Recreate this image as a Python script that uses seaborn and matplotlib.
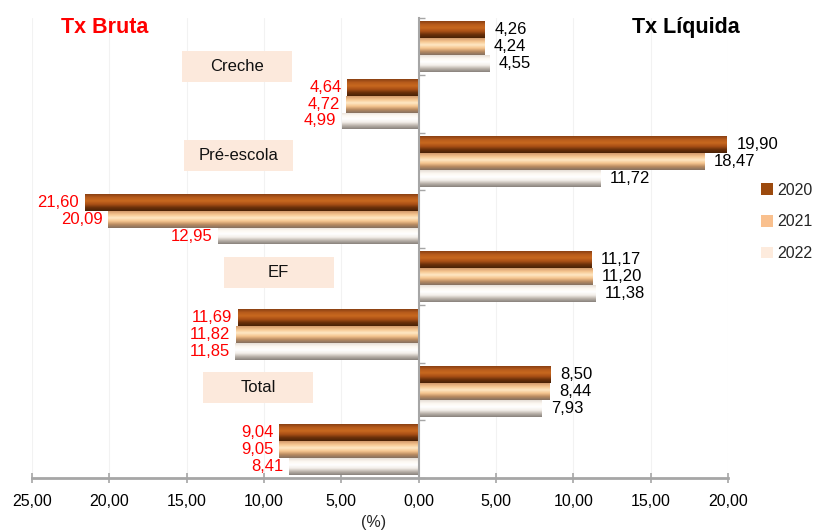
import numpy as np
import pandas as pd
import seaborn as sns
import matplotlib.pyplot as plt
from matplotlib.colors import LinearSegmentedColormap
from matplotlib.patches import Rectangle
from matplotlib.ticker import FuncFormatter, MultipleLocator

# dados (em %)
categorias = ["Creche", "Pré-escola", "EF", "Total"]
anos = ["2020", "2021", "2022"]
tx_liquida = {
    "2020": [4.26, 19.90, 11.17, 8.50],
    "2021": [4.24, 18.47, 11.20, 8.44],
    "2022": [4.55, 11.72, 11.38, 7.93],
}
tx_bruta = {
    "2020": [4.64, 21.60, 11.69, 9.04],
    "2021": [4.72, 20.09, 11.82, 9.05],
    "2022": [4.99, 12.95, 11.85, 8.41],
}

# monta tabela longa: cada categoria tem uma linha Liquida (positiva) e uma Bruta (negativa)
linhas = []
for i, cat in enumerate(categorias):
    for ano in anos:
        linhas.append({"linha": f"{cat} L", "ano": ano, "valor": tx_liquida[ano][i]})
    for ano in anos:
        linhas.append({"linha": f"{cat} B", "ano": ano, "valor": -tx_bruta[ano][i]})
df = pd.DataFrame(linhas)
ordem = [f"{c} {t}" for c in categorias for t in ("L", "B")]

sns.set_style("white")
plt.rcParams["font.family"] = ["Liberation Sans", "DejaVu Sans"]

cores = {"2020": "#9C4A0E", "2021": "#F9C08E", "2022": "#FDEBDD"}
gradientes = {
    "2020": ["#8A4012", "#B85C1C", "#C8681F", "#AA5016", "#6A300A", "#4A2206"],
    "2021": ["#D29A6C", "#F6C690", "#FFE8C4", "#F4C48E", "#B88A60", "#857060"],
    "2022": ["#E6DED6", "#FDF8F2", "#FFFFFF", "#F3EEE9", "#BAB2AA", "#88827C"],
}

fig = plt.figure(figsize=(8.18, 5.32), dpi=100)
ax = fig.add_axes([0.0391, 0.1015, 0.851, 0.865])

sns.barplot(data=df, x="valor", y="linha", hue="ano", order=ordem,
            hue_order=anos, palette=cores, orient="h", width=0.88,
            legend=False, ax=ax, saturation=1)

# efeito cilindrico nas barras + rotulos
for ano, cont in zip(anos, ax.containers):
    cmap = LinearSegmentedColormap.from_list("g" + ano, gradientes[ano])
    grad = cmap(np.linspace(0, 1, 64))[:, None, :3]
    for p in cont.patches:
        p.set_edgecolor("none")
        x0, y0, w, h = p.get_x(), p.get_y(), p.get_width(), p.get_height()
        im = ax.imshow(grad, extent=[x0, x0 + w, y0 + h, y0], aspect="auto",
                       origin="upper", zorder=p.get_zorder() + 0.1,
                       interpolation="bilinear")
        im.set_clip_path(p)
        fim = x0 + w
        txt = f"{abs(w):.2f}".replace(".", ",")
        if w > 0:
            ax.annotate(txt, (fim, y0 + h / 2), xytext=(7, 0), textcoords="offset points",
                        ha="left", va="center", fontsize=12, color="black")
        else:
            ax.annotate(txt, (fim, y0 + h / 2), xytext=(-4, 0), textcoords="offset points",
                        ha="right", va="center", fontsize=12, color="red")

ax.set_xlim(-25, 20)
ax.set_ylim(len(ordem) - 0.5, -0.5)

# caixas com nome da etapa
caixa_x = [-11.75, -11.65, -9.05, -10.4]
caixa_dy = [0.35, -0.10, -0.07, -0.08]
cw, ch = 7.1, 0.54
for i, cat in enumerate(categorias):
    cy = 2 * i + caixa_dy[i]
    ax.add_patch(Rectangle((caixa_x[i] - cw / 2, cy - ch / 2), cw, ch,
                           facecolor="#FCE9DC", edgecolor="none", zorder=1))
    ax.text(caixa_x[i], cy, cat, ha="center", va="center", fontsize=12,
            color="#111111", zorder=2)

# eixos
for s in ("top", "right"):
    ax.spines[s].set_visible(False)
ax.spines["left"].set_position(("data", 0))
ax.spines["left"].set_color("#A6A6A6")
ax.spines["left"].set_linewidth(1.5)
ax.spines["bottom"].set_color("#A6A6A6")
ax.spines["bottom"].set_linewidth(2)
ax.xaxis.set_major_locator(MultipleLocator(5))
ax.xaxis.set_major_formatter(FuncFormatter(lambda v, _: f"{abs(v):.2f}".replace(".", ",")))
ax.tick_params(axis="x", direction="inout", length=7, width=1.2, colors="#A6A6A6",
               labelcolor="black", labelsize=11.5, pad=8, bottom=True)
ax.set_yticks(np.arange(-0.5, len(ordem), 1.0))
ax.set_yticklabels([])
ax.tick_params(axis="y", direction="in", length=4, width=1, colors="#A6A6A6", left=True)
ax.grid(axis="x", color="#F2F2F2", linewidth=0.8)
ax.set_axisbelow(True)
ax.set_xlabel("(%)", fontsize=11.5)
ax.set_ylabel("")
ax.xaxis.set_label_coords(0.49, -0.08)

fig.text(0.128, 0.949, "Tx Bruta", color="#FF0000", fontsize=15.5,
         fontweight="bold", ha="center", va="center")
fig.text(0.839, 0.949, "Tx Líquida", color="black", fontsize=15.5,
         fontweight="bold", ha="center", va="center")

alcas = [Rectangle((0, 0), 1, 1, facecolor=cores[a], edgecolor="none") for a in anos]
fig.legend(alcas, anos, loc="center left", bbox_to_anchor=(0.93, 0.583),
           frameon=False, fontsize=11.5, handlelength=0.75, handleheight=0.75,
           handletextpad=0.3, labelspacing=1.05, borderpad=0, borderaxespad=0)

fig.savefig("out.png", dpi=100)
